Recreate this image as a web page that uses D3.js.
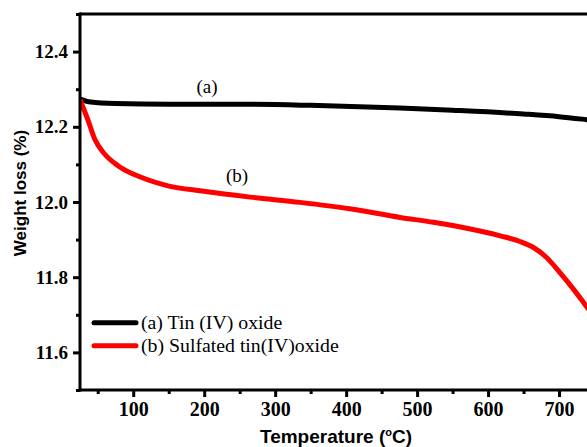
<!DOCTYPE html>
<html>
<head>
<meta charset="utf-8">
<script src="https://cdn.jsdelivr.net/npm/d3@7"></script>
<style>
  html, body { margin: 0; padding: 0; background: #fff; }
  svg { display: block; }
  .serif { font-family: "Liberation Serif", "Times New Roman", serif; font-weight: 400; }
  .serif-bold { font-family: "Liberation Serif", "Times New Roman", serif; font-weight: 700; }
  .sans { font-family: "Liberation Sans", Arial, sans-serif; font-weight: 700; }
</style>
</head>
<body>
<svg id="chart" width="587" height="447"></svg>
<script>
// Thermogravimetric curves: temperature (°C) vs weight (%)
const tinOxideTemp  = [25, 40, 75, 150, 250, 350, 476, 550, 650, 700, 739, 800];
const tinOxideValue = [12.274, 12.266, 12.262, 12.260, 12.260, 12.257, 12.250, 12.244, 12.234, 12.227, 12.219, 12.205];

const sulfatedTemp  = [25, 36, 46, 60, 79, 112, 149, 197, 265, 335, 405, 476, 523, 570, 617, 645, 664, 682, 701, 720, 736, 760, 800];
const sulfatedValue = [12.272, 12.219, 12.166, 12.127, 12.096, 12.065, 12.043, 12.029, 12.013, 11.999, 11.982, 11.959, 11.946, 11.930, 11.910, 11.895, 11.879, 11.853, 11.813, 11.769, 11.729, 11.668, 11.560];

const xTicks = [100, 200, 300, 400, 500, 600, 700];
const xMinor = [50, 150, 250, 350, 450, 550, 650, 750];
const yTicks = [11.6, 11.8, 12.0, 12.2, 12.4];
const yMinor = [11.5, 11.7, 11.9, 12.1, 12.3, 12.5];

const legendLabels = ["(a) Tin (IV) oxide", "(b) Sulfated tin(IV)oxide"];
const seriesColors = ["#000000", "#ff0000"];
const curveLabels = ["(a)", "(b)"];

const svg = d3.select("#chart");
const padL = 80, padT = 14, padB = 390, padR = 630;

const x = d3.scaleLinear().domain([25, 800]).range([padL, padR]);
const y = d3.scaleLinear().domain([11.5, 12.5]).range([padB, padT]);

// clip for curves
svg.append("defs").append("clipPath").attr("id", "plot")
  .append("rect").attr("x", padL).attr("y", padT).attr("width", padR - padL).attr("height", padB - padT);

const line = d3.line().x(d => x(d[0])).y(d => y(d[1])).curve(d3.curveMonotoneX);
const series = [
  d3.zip(tinOxideTemp, tinOxideValue),
  d3.zip(sulfatedTemp, sulfatedValue)
];
const g = svg.append("g").attr("clip-path", "url(#plot)");
series.forEach((s, i) => {
  g.append("path").datum(s).attr("d", line)
    .attr("fill", "none").attr("stroke", seriesColors[i])
    .attr("stroke-width", 5).attr("stroke-linejoin", "round");
});

// frame (top border)
svg.append("line").attr("x1", padL).attr("x2", padR).attr("y1", padT).attr("y2", padT)
  .attr("stroke", "#000").attr("stroke-width", 3);

// axes
const xAxis = svg.append("g").attr("transform", `translate(0,${padB})`)
  .call(d3.axisBottom(x).tickValues(xTicks).tickSize(7).tickPadding(5).tickFormat(d3.format("d")));
const xAxisMinor = svg.append("g").attr("transform", `translate(0,${padB})`)
  .call(d3.axisBottom(x).tickValues(xMinor).tickSize(4).tickFormat(""));
const yAxis = svg.append("g").attr("transform", `translate(${padL},0)`)
  .call(d3.axisLeft(y).tickValues(yTicks).tickSize(7).tickPadding(5).tickFormat(d3.format(".1f")));
const yAxisMinor = svg.append("g").attr("transform", `translate(${padL},0)`)
  .call(d3.axisLeft(y).tickValues(yMinor).tickSize(4).tickFormat(""));

[xAxis, xAxisMinor, yAxis, yAxisMinor].forEach(a => {
  a.attr("font-family", null).attr("font-size", null);
  a.select(".domain").attr("stroke", "#000").attr("stroke-width", 3);
  a.selectAll(".tick line").attr("stroke", "#000").attr("stroke-width", 3);
});
xAxis.select(".domain").attr("d", `M${padL - 1.5},0H${padR}`);
yAxis.select(".domain").attr("d", `M0,${padB + 1.5}V${padT - 1.5}`);
xAxisMinor.select(".domain").remove();
yAxisMinor.select(".domain").remove();

xAxis.selectAll(".tick text").attr("class", "serif-bold")
  .style("font-size", "20px").attr("fill", "#000");
yAxis.selectAll(".tick text").attr("class", "serif-bold")
  .style("font-size", "19px").attr("fill", "#000");

// axis titles
const xt = svg.append("text").attr("class", "sans").attr("x", 336).attr("y", 443)
  .attr("text-anchor", "middle").style("font-size", "19px").attr("fill", "#000");
xt.append("tspan").text("Temperature (");
xt.append("tspan").text("o").style("font-size", "11px").attr("dy", -7);
xt.append("tspan").text("C)").attr("dy", 7);

svg.append("text").attr("class", "sans")
  .attr("transform", "translate(26,193) rotate(-90)")
  .attr("text-anchor", "middle").style("font-size", "17px").attr("fill", "#000")
  .text("Weight loss (%)");

// curve labels
const labelPos = [[207, 12.291], [237, 12.052]];
curveLabels.forEach((t, i) => {
  svg.append("text").attr("class", "serif")
    .attr("x", labelPos[i][0]).attr("y", y(labelPos[i][1]))
    .attr("text-anchor", "middle").style("font-size", "19px").attr("fill", "#000")
    .text(t);
});

// legend
const legendY = [11.679, 11.618];
legendLabels.forEach((t, i) => {
  const ly = y(legendY[i]);
  svg.append("line").attr("x1", 94).attr("x2", 136).attr("y1", ly).attr("y2", ly)
    .attr("stroke", seriesColors[i]).attr("stroke-width", 5).attr("stroke-linecap", "round");
  svg.append("text").attr("class", "serif").attr("x", 141).attr("y", ly + 6)
    .style("font-size", "19.8px").attr("fill", "#000")
    .text(t);
});
</script>
</body>
</html>
